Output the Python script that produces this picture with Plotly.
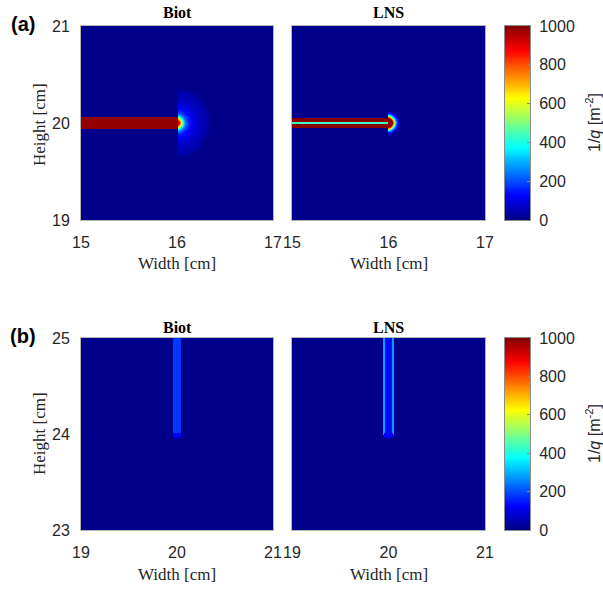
import numpy as np
import plotly.graph_objects as go

# ---------------- data ----------------
panel_titles = ["Biot", "LNS"]
panel_tags = ["(a)", "(b)"]
x_ticks_a = [15, 16, 17]
y_ticks_a = [19, 20, 21]
x_ticks_b = [19, 20, 21]
y_ticks_b = [23, 24, 25]
cbar_ticks = [0, 200, 400, 600, 800, 1000]
cbar_levels = list(range(0, 1001, 5))
background_val = 10

# (a) horizontal crack ending at x = 16 cm, y = 20 cm
crack_a_tip = 16.0
crack_a_y = 20.0
biot_a_half = 0.06
biot_a_crack_val = 980
biot_a_halo_r = [0.00, 0.03, 0.05, 0.07, 0.09, 0.12, 0.16, 0.22, 0.30, 0.34, 0.345]
biot_a_halo_v = [1000, 900, 650, 400, 250, 160, 110, 70, 45, 35, 10]
lns_a_band_edges = [0.005, 0.015, 0.055]
lns_a_band_vals = [230, 430, 990]
lns_a_tip_r = [0.00, 0.05, 0.065, 0.08, 0.10, 0.13]
lns_a_tip_v = [990, 990, 700, 380, 160, 10]

# (b) vertical crack from y = 25 down to 24 cm at x = 20 cm
crack_b_x = 20.0
crack_b_tip = 24.0
biot_b_half = 0.05
biot_b_band_val = 180
biot_b_tip_r = 0.05
biot_b_tip_val = 120
lns_b_line_inner = 0.033
lns_b_line_outer = 0.053
lns_b_line_val = 280
lns_b_inner_val = 130
lns_b_tip_r = 0.05
lns_b_tip_val = 120

step = 0.01

# ---------------- build fields ----------------
xa = np.round(np.arange(15, 17 + step / 2, step), 3)
ya = np.round(np.arange(19, 21 + step / 2, step), 3)
XA, YA = np.meshgrid(xa, ya)
xb = np.round(np.arange(19, 21 + step / 2, step), 3)
yb = np.round(np.arange(23, 25 + step / 2, step), 3)
XB, YB = np.meshgrid(xb, yb)

# Biot (a)
z1 = np.full(XA.shape, float(background_val))
dy = np.abs(YA - crack_a_y)
z1[(dy <= biot_a_half) & (XA <= crack_a_tip)] = biot_a_crack_val
r = np.hypot(XA - crack_a_tip, YA - crack_a_y)
halo = (XA > crack_a_tip) & (r <= biot_a_halo_r[-1])
z1[halo] = np.interp(r[halo], biot_a_halo_r, biot_a_halo_v)

# LNS (a)
z2 = np.full(XA.shape, float(background_val))
inbar = XA <= crack_a_tip
lo = 0.0
for edge, val in zip(lns_a_band_edges, lns_a_band_vals):
    m = inbar & (dy >= lo) & (dy <= edge)
    z2[m] = val
    lo = edge
r2 = np.hypot(XA - (crack_a_tip - 0.01), YA - crack_a_y)
tipm = (XA > crack_a_tip - 0.01) & (r2 <= lns_a_tip_r[-1])
z2[tipm] = np.maximum(z2[tipm], np.interp(r2[tipm], lns_a_tip_r, lns_a_tip_v))

# Biot (b)
z3 = np.full(XB.shape, float(background_val))
dx = np.abs(XB - crack_b_x)
z3[(dx <= biot_b_half) & (YB >= crack_b_tip)] = biot_b_band_val
rb = np.hypot(XB - crack_b_x, YB - crack_b_tip)
z3[(rb <= biot_b_tip_r) & (YB < crack_b_tip + 0.02)] = biot_b_tip_val

# LNS (b)
z4 = np.full(XB.shape, float(background_val))
above = YB >= crack_b_tip
z4[above & (dx < lns_b_line_inner)] = lns_b_inner_val
z4[above & (dx >= lns_b_line_inner) & (dx <= lns_b_line_outer)] = lns_b_line_val
z4[(rb <= lns_b_tip_r) & (YB < crack_b_tip + 0.02)] = lns_b_tip_val

jet = [[0.0, "rgb(0,0,128)"], [0.125, "rgb(0,0,255)"], [0.375, "rgb(0,255,255)"],
       [0.625, "rgb(255,255,0)"], [0.875, "rgb(255,0,0)"], [1.0, "rgb(128,0,0)"]]

W, H = 603, 589
def px(v):
    return v / W
def py(v):
    return 1 - v / H

colL = [px(81), px(273)]
colR = [px(292), px(485)]
colC = [px(505), px(530)]
rowA = [py(220), py(26)]
rowB = [py(530), py(338)]

hm = dict(colorscale=jet, zmin=0, zmax=1000, showscale=False, hoverinfo="skip")
fig = go.Figure()
fig.add_trace(go.Heatmap(x=xa, y=ya, z=np.round(z1).astype(int), xaxis="x", yaxis="y", **hm))
fig.add_trace(go.Heatmap(x=xa, y=ya, z=np.round(z2).astype(int), xaxis="x2", yaxis="y2", **hm))
fig.add_trace(go.Heatmap(x=xb, y=yb, z=np.round(z3).astype(int), xaxis="x3", yaxis="y3", **hm))
fig.add_trace(go.Heatmap(x=xb, y=yb, z=np.round(z4).astype(int), xaxis="x4", yaxis="y4", **hm))
# colour bars drawn as thin heatmaps of the colour levels
for xa_name, ya_name in [("x5", "y5"), ("x6", "y6")]:
    fig.add_trace(go.Heatmap(x=[0], y=cbar_levels, z=[[v] for v in cbar_levels],
                             xaxis=xa_name, yaxis=ya_name, **hm))

tickfont = dict(family="Liberation Sans, Arial, sans-serif", size=16, color="#262626")
axcommon = dict(showgrid=False, zeroline=False, showline=True, linecolor="#b5b5b5",
                linewidth=1, mirror=True, ticks="", tickfont=tickfont, automargin=False)

def xax(domain, anchor, rng, tv, **kw):
    return dict(domain=domain, anchor=anchor, range=rng, tickvals=tv,
                ticklabelstandoff=8, **axcommon, **kw)

def yax(domain, anchor, rng, tv, **kw):
    return dict(domain=domain, anchor=anchor, range=rng, tickvals=tv,
                ticklabelstandoff=7, **axcommon, **kw)

cb_x = dict(showgrid=False, zeroline=False, showline=True, linecolor="#8c8c8c", mirror=True,
            showticklabels=False, ticks="", range=[-0.5, 0.5], automargin=False)
cb_y = dict(showgrid=False, zeroline=False, showline=True, linecolor="#8c8c8c", mirror=True,
            side="right", range=[0, 1000], tickvals=cbar_ticks, ticks="inside", ticklen=3,
            tickcolor="#8c8c8c", tickfont=tickfont, ticklabelstandoff=5, automargin=False)

fig.update_layout(
    template="none",
    width=W, height=H, margin=dict(l=0, r=0, t=0, b=0, autoexpand=False),
    paper_bgcolor="white", plot_bgcolor="white", showlegend=False,
    xaxis=xax(colL, "y", [15, 17], x_ticks_a),
    yaxis=yax(rowA, "x", [19, 21], y_ticks_a),
    xaxis2=xax(colR, "y2", [15, 17], x_ticks_a),
    yaxis2=yax(rowA, "x2", [19, 21], y_ticks_a, showticklabels=False),
    xaxis3=xax(colL, "y3", [19, 21], x_ticks_b),
    yaxis3=yax(rowB, "x3", [23, 25], y_ticks_b),
    xaxis4=xax(colR, "y4", [19, 21], x_ticks_b),
    yaxis4=yax(rowB, "x4", [23, 25], y_ticks_b, showticklabels=False),
    xaxis5=dict(domain=colC, anchor="y5", **cb_x),
    yaxis5=dict(domain=rowA, anchor="x5", **cb_y),
    xaxis6=dict(domain=colC, anchor="y6", **cb_x),
    yaxis6=dict(domain=rowB, anchor="x6", **cb_y),
)

serif = "Liberation Serif, Times New Roman, serif"
sans = "Liberation Sans, Arial, sans-serif"
base = dict(xref="paper", yref="paper", xanchor="center", yanchor="middle", showarrow=False)
ann = []
for i, col in enumerate([colL, colR]):
    cx = (col[0] + col[1]) / 2
    for ty in [py(13), py(327)]:
        ann.append(dict(x=cx, y=ty, text="<b>%s</b>" % panel_titles[i],
                        font=dict(family=serif, size=16, color="black"), **base))
    for wy in [py(263), py(574)]:
        ann.append(dict(x=cx, y=wy, text="Width [cm]",
                        font=dict(family=serif, size=17, color="#262626"), **base))
for hy in [py(125), py(434)]:
    ann.append(dict(x=px(39), y=hy, text="Height [cm]", textangle=-90,
                    font=dict(family=serif, size=17, color="#262626"), **base))
for cy in [py(123), py(434)]:
    ann.append(dict(x=px(593), y=cy, text="1/<i>q</i> [m<sup>-2</sup>]", textangle=-90,
                    font=dict(family=sans, size=16, color="#262626"), **base))
for tag, ty in zip(panel_tags, [py(24), py(336)]):
    ann.append(dict(x=px(23), y=ty, text="<b>%s</b>" % tag,
                    font=dict(family=sans, size=20, color="black"), **base))
fig.update_layout(annotations=ann)

fig.write_html("out.html")
